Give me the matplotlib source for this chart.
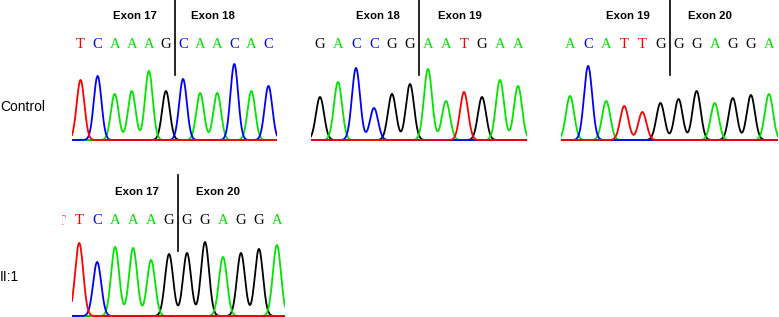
import matplotlib.pyplot as plt
import numpy as np
from matplotlib.textpath import TextPath
from matplotlib.patches import PathPatch, Rectangle
from matplotlib.font_manager import FontProperties
from matplotlib.transforms import Affine2D

W, H = 779, 317

# base calls and peak heights
bases_ctrl_17_18 = "TCAAAGCAACAC"
heights_ctrl_17_18 = [60, 64, 46, 49, 69, 49, 61, 47, 47, 76, 49, 54]
bases_ctrl_18_19 = "GACCGGAATGAA"
heights_ctrl_18_19 = [43, 58, 72, 32, 46, 56, 71, 39, 48, 43, 60, 54]
bases_ctrl_19_20 = "ACATTGGGAGGA"
heights_ctrl_19_20 = [44, 74, 39, 34, 28, 37, 41, 49, 37, 42, 45, 46]
bases_ii1 = "TCAAAGGGAGGA"
heights_ii1 = [73, 54, 69, 68, 56, 62, 63, 74, 59, 63, 67, 71]
exon_labels = [("Exon 17", "Exon 18"), ("Exon 18", "Exon 19"),
               ("Exon 19", "Exon 20"), ("Exon 17", "Exon 20")]
row_labels = ["Control", "II:1"]

colors = {"A": "#00e600", "C": "#0000ff", "G": "#000000", "T": "#ff0000"}
draw_order = ["G", "A", "C", "T"]
base_font = "Liberation Serif"

fig = plt.figure(figsize=(W / 100, H / 100), dpi=100)


def px_axes(left, top, right, bottom):
    return fig.add_axes([left / W, 1 - bottom / H, (right - left) / W, (bottom - top) / H])


def trace(ax, bases, heights, labels, xlim, ylim_top):
    x = np.linspace(xlim[0], xlim[1], 800)
    sig = 0.225
    for b in draw_order:
        y = np.zeros_like(x)
        for i, (bb, h) in enumerate(zip(bases, heights)):
            if bb == b:
                y += h * np.exp(-(x - i) ** 2 / (2 * sig ** 2))
        ax.plot(x, y, color=colors[b], lw=1.3, solid_joinstyle="miter")
    for i, bb in enumerate(bases):
        ax.text(i, 95, bb, color=colors[bb], ha="center", va="center",
                fontsize=10.5, family=base_font)
    ax.plot([5.5, 5.5], [65, 141], color="black", lw=1.2, clip_on=False)
    ax.text(3.2, 124, labels[0], ha="center", va="center", fontsize=8.2,
            family="Liberation Sans", weight="bold")
    ax.text(7.75, 124, labels[1], ha="center", va="center", fontsize=8.2,
            family="Liberation Sans", weight="bold")
    ax.set_xlim(*xlim)
    ax.set_ylim(-2, ylim_top)
    ax.axis("off")
    return ax


ax1 = px_axes(72, 0, 277, 142)
trace(ax1, bases_ctrl_17_18, heights_ctrl_17_18, exon_labels[0], (-0.5, 11.5), 140)
ax2 = px_axes(311, 0, 527, 142)
trace(ax2, bases_ctrl_18_19, heights_ctrl_18_19, exon_labels[1], (-0.5, 11.5), 140)
ax3 = px_axes(561, 0, 778, 142)
trace(ax3, bases_ctrl_19_20, heights_ctrl_19_20, exon_labels[2], (-0.5, 11.5), 140)
ax4 = px_axes(72, 160, 285, 318)
trace(ax4, bases_ii1, heights_ii1, exon_labels[3], (-0.4, 11.45), 156)

# cut-off letter at the left edge of the II:1 read, only its right tip shows
tp = TextPath((0, 0), "T", size=14, prop=FontProperties(family=base_font))
ext = tp.get_extents()
glyph = PathPatch(tp, color=colors["T"], lw=0)
fig.add_artist(glyph)
glyph.set_transform(Affine2D().translate(-ext.x1, -(ext.y0 + ext.y1) / 2)
                    + Affine2D().translate(65.5, H - 220))
glyph.set_clip_path(Rectangle((62, 0), W, H, transform=None))

fig.text(0, 1 - 107 / H, row_labels[0], ha="left", va="center", fontsize=10,
         family="Liberation Sans")
fig.text(0, 1 - 277 / H, row_labels[1], ha="left", va="center", fontsize=10,
         family="Liberation Sans")

fig.savefig("out.png", dpi=100)
